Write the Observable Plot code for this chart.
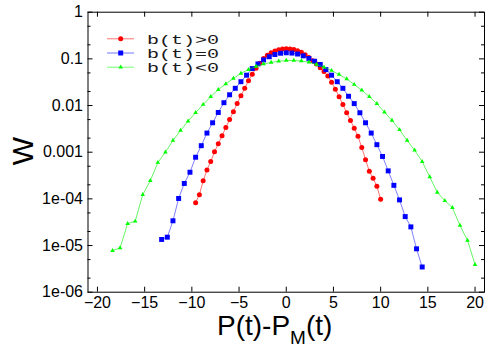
<!DOCTYPE html>
<html><head><meta charset="utf-8">
<script src="https://cdn.jsdelivr.net/npm/d3@7"></script>
<script src="https://cdn.jsdelivr.net/npm/@observablehq/plot@0.6"></script>
<style>body{margin:0;background:#fff}#chart{width:500px;height:350px}</style>
</head><body><div id="chart"></div>
<script>
const seriesNames = ["b(t)>0", "b(t)=0", "b(t)<0"];

const redX = [-9.6,-9.2,-8.8,-8.4,-8.0,-7.6,-7.2,-6.8,-6.4,-6.0,-5.6,-5.2,-4.8,-4.4,-4.0,-3.6,-3.2,-2.8,-2.4,-2.0,-1.6,-1.2,-0.8,-0.4,0,0.4,0.8,1.2,1.6,2.0,2.4,2.8,3.2,3.6,4.0,4.4,4.8,5.2,5.6,6.0,6.4,6.8,7.2,7.6,8.0,8.4,8.8,9.2,9.6,10.0];
const redW = [8.3e-5,1.23e-4,2.45e-4,4.17e-4,6.3e-4,1.02e-3,1.51e-3,2.24e-3,3.39e-3,5.0e-3,7.4e-3,1.10e-2,1.62e-2,2.34e-2,3.39e-2,4.68e-2,6.3e-2,8.1e-2,0.102,0.120,0.135,0.148,0.157,0.162,0.164,0.162,0.158,0.150,0.138,0.123,0.107,0.091,0.0776,0.0646,0.0537,0.0427,0.0316,0.0224,0.0155,0.0105,7.0e-3,4.8e-3,3.27e-3,2.19e-3,1.26e-3,6.9e-4,3.9e-4,2.75e-4,1.86e-4,9.8e-5];

const blueX = [-13.2,-12.6,-12.0,-11.4,-10.8,-10.2,-9.6,-9.0,-8.4,-7.8,-7.2,-6.6,-6.0,-5.4,-4.8,-4.2,-3.6,-3.0,-2.4,-1.8,-1.2,-0.6,0,0.6,1.2,1.8,2.4,3.0,3.6,4.2,4.8,5.4,6.0,6.6,7.2,7.8,8.4,9.0,9.6,10.2,10.8,11.4,12.0,12.6,13.2,13.8,14.4];
const blueW = [1.35e-5,1.51e-5,3.39e-5,1.02e-4,2.14e-4,3.72e-4,7.8e-4,1.38e-3,2.57e-3,4.27e-3,7.1e-3,1.15e-2,1.70e-2,2.34e-2,3.24e-2,4.47e-2,6.2e-2,7.8e-2,9.5e-2,0.111,0.124,0.132,0.135,0.133,0.127,0.116,0.102,0.089,0.0759,0.0589,0.0447,0.0324,0.0234,0.0158,0.0110,7.0e-3,4.27e-3,2.57e-3,1.45e-3,8.1e-4,3.98e-4,1.95e-4,9.5e-5,4.17e-5,2.51e-5,8.5e-6,3.47e-6];

const greenX = [-18.4,-17.6,-16.8,-16.0,-15.2,-14.4,-13.6,-12.8,-12.0,-11.2,-10.4,-9.6,-8.8,-8.0,-7.2,-6.4,-5.6,-4.8,-4.0,-3.2,-2.4,-1.6,-0.8,0,0.8,1.6,2.4,3.2,4.0,4.8,5.6,6.4,7.2,8.0,8.8,9.6,10.4,11.2,12.0,12.8,13.6,14.4,15.2,16.0,16.8,17.6,18.4,19.2,20.0];
const greenW = [7.8e-6,8.9e-6,2.95e-5,3.31e-5,1.23e-4,2.45e-4,6.0e-4,1.0e-3,1.78e-3,2.92e-3,4.62e-3,7.0e-3,1.05e-2,1.55e-2,2.19e-2,2.92e-2,3.80e-2,4.90e-2,5.89e-2,6.92e-2,7.76e-2,8.41e-2,8.91e-2,9.23e-2,9.23e-2,9.02e-2,8.51e-2,7.59e-2,6.61e-2,5.62e-2,4.62e-2,3.72e-2,2.82e-2,2.14e-2,1.55e-2,1.10e-2,7.2e-3,4.8e-3,3.02e-3,1.78e-3,1.10e-3,6.3e-4,2.95e-4,1.38e-4,9.1e-5,6.5e-5,2.69e-5,1.29e-5,3.9e-6];

const xTicks = [-20,-15,-10,-5,0,5,10,15,20];
const yTicks = [1,0.1,0.01,0.001,1e-4,1e-5,1e-6];
const yTickLabels = ["1","0.1","0.01","0.001","1e-04","1e-05","1e-06"];
const yMinor = [5e-1,2e-1,5e-2,2e-2,5e-3,2e-3,5e-4,2e-4,5e-5,2e-5,5e-6,2e-6];

const W = 500, H = 350;
const mL = 87.5, mR = 16, mT = 11.7, mB = 58.3;
const pw = W - mL - mR, ph = H - mT - mB;

const mk = (xs, ws, s) => xs.map((x, i) => ({s, x, w: ws[i]}));
const red = mk(redX, redW, seriesNames[0]);
const blue = mk(blueX, blueW, seriesNames[1]);
const green = mk(greenX, greenW, seriesNames[2]);

const plot = Plot.plot({
  width: W, height: H,
  marginLeft: mL, marginRight: mR, marginTop: mT, marginBottom: mB,
  style: {fontFamily: "'Liberation Sans', Arial, sans-serif", background: "#fff", color: "#000"},
  x: {domain: [-21, 21]},
  y: {type: "log", domain: [1e-6, 1]},
  marks: [
    Plot.line(red, {x: "x", y: "w", stroke: "#ff0000", strokeOpacity: 0.55, strokeWidth: 1}),
    Plot.dot(red, {x: "x", y: "w", fill: "#ff0000", r: 2.5, symbol: "circle"}),
    Plot.line(blue, {x: "x", y: "w", stroke: "#0000ff", strokeOpacity: 0.5, strokeWidth: 1}),
    Plot.dot(blue, {x: "x", y: "w", fill: "#0000ff", r: 2.8, symbol: "square"}),
    Plot.line(green, {x: "x", y: "w", stroke: "#00ee00", strokeOpacity: 0.6, strokeWidth: 1}),
    Plot.dot(green, {x: "x", y: "w", fill: "#00ff00", r: 1.7, symbol: "triangle"}),
    Plot.tickX(xTicks, {x: d => d, insetTop: ph - 5, stroke: "#000"}),
    Plot.tickX(xTicks, {x: d => d, insetBottom: ph - 5, stroke: "#000"}),
    Plot.tickY(yTicks, {y: d => d, insetRight: pw - 5, stroke: "#000"}),
    Plot.tickY(yTicks, {y: d => d, insetLeft: pw - 5, stroke: "#000"}),
    Plot.tickY(yMinor, {y: d => d, insetRight: pw - 3, stroke: "#000"}),
    Plot.tickY(yMinor, {y: d => d, insetLeft: pw - 3, stroke: "#000"}),
    Plot.frame({stroke: "#000"}),
    Plot.axisX({ticks: xTicks, tickSize: 0, tickPadding: 4, label: null, fontSize: 16}),
    Plot.axisY({ticks: yTicks, tickSize: 0, tickPadding: 5, label: null, fontSize: 16,
      tickFormat: d => yTickLabels[yTicks.indexOf(d)]})
  ]
});
document.getElementById("chart").append(plot);

const svg = d3.select(plot);
// axis titles
svg.append("text")
  .attr("transform", "translate(33,151) rotate(-90)")
  .attr("text-anchor", "middle")
  .style("font", "30px 'Liberation Sans', Arial, sans-serif")
  .attr("fill", "#000")
  .text("W");
const xl = svg.append("text")
  .attr("x", 217).attr("y", 335)
  .attr("text-anchor", "start")
  .style("font", "28px 'Liberation Sans', Arial, sans-serif")
  .attr("fill", "#000");
xl.append("tspan").text("P(t)-P");
xl.append("tspan").attr("dy", 9).style("font-size", "19px").text("M");
xl.append("tspan").attr("dy", -9).text("(t)");

// legend
const legColors = ["#ff0000", "#0000ff", "#00ff00"];
const legSyms = [d3.symbolCircle, d3.symbolSquare, d3.symbolTriangle];
const legR = [2.5, 2.8, 1.7];
const rowsY = [38.8, 53, 67.2];
const lg = svg.append("g");
seriesNames.forEach((name, i) => {
  const y = rowsY[i];
  lg.append("line").attr("x1", 107).attr("x2", 134).attr("y1", y).attr("y2", y)
    .attr("stroke", legColors[i]).attr("stroke-opacity", 0.55);
  lg.append("path").attr("transform", `translate(120.7,${y})`)
    .attr("d", d3.symbol(legSyms[i], Math.PI * legR[i] * legR[i])())
    .attr("fill", legColors[i]);
  lg.append("text").attr("x", 147).attr("y", y + 5)
    .attr("text-anchor", "start")
    .attr("textLength", 72)
    .attr("lengthAdjust", "spacingAndGlyphs")
    .style("font", "12.3px 'Liberation Mono', 'DejaVu Sans Mono', monospace")
    .attr("fill", "#1a1a1a")
    .text(name);
});
</script>
</body></html>
